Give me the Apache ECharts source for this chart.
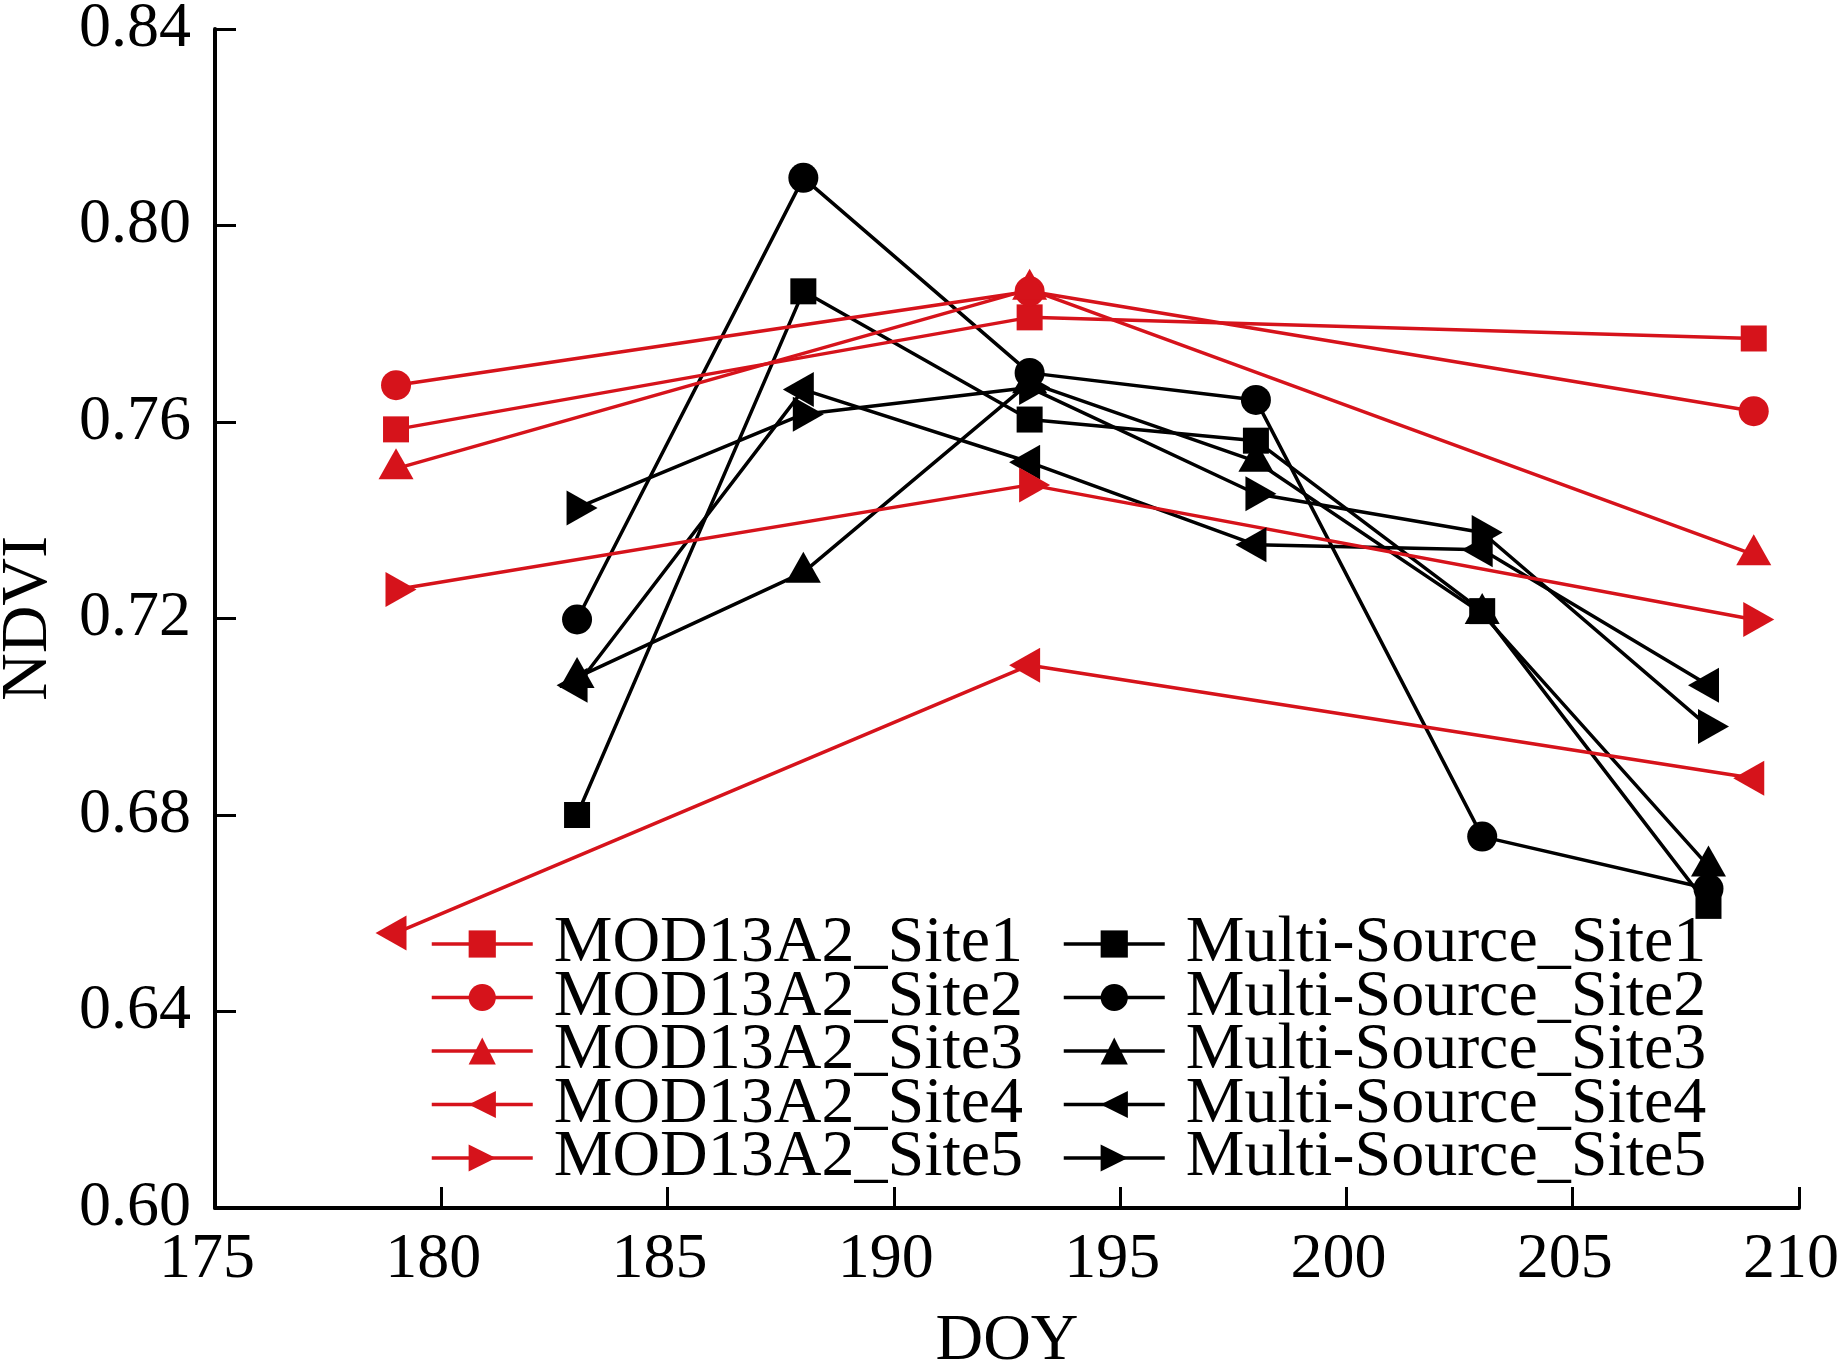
<!DOCTYPE html>
<html>
<head>
<meta charset="utf-8">
<script src="https://cdn.jsdelivr.net/npm/echarts@6/dist/echarts.min.js"></script>
<style>
  html, body { margin: 0; padding: 0; background: #fff; }
  #chart { width: 1841px; height: 1361px; }
</style>
</head>
<body>
<div id="chart"></div>
<script>
// DOY of each observation
const modDoy = [179, 193, 209];
const msDoy = [183, 188, 193, 198, 203, 208];

// MOD13A2 NDVI
const modSite1 = [0.7585, 0.7813, 0.777];
const modSite2 = [0.7675, 0.7866, 0.7622];
const modSite3 = [0.7505, 0.787, 0.733];
const modSite4 = [0.656, 0.7105, 0.6875];
const modSite5 = [0.7259, 0.7472, 0.7198];

// Multi-Source NDVI
const msSite1 = [0.680, 0.7866, 0.7605, 0.7562, 0.7215, 0.6615];
const msSite2 = [0.7198, 0.8097, 0.770, 0.7645, 0.6756, 0.665];
const msSite3 = [0.708, 0.7294, 0.768, 0.752, 0.721, 0.6696];
const msSite4 = [0.7064, 0.7666, 0.7518, 0.735, 0.734, 0.7064];
const msSite5 = [0.7425, 0.7616, 0.767, 0.7454, 0.7375, 0.698];

const xTicks = [175, 180, 185, 190, 195, 200, 205, 210];
const yTicks = [0.60, 0.64, 0.68, 0.72, 0.76, 0.80, 0.84];

const modNames = ['MOD13A2_Site1', 'MOD13A2_Site2', 'MOD13A2_Site3', 'MOD13A2_Site4', 'MOD13A2_Site5'];
const msNames = ['Multi-Source_Site1', 'Multi-Source_Site2', 'Multi-Source_Site3', 'Multi-Source_Site4', 'Multi-Source_Site5'];

const RED = '#d6131b';
const BLACK = '#000000';
const FONT = '"Liberation Serif", "Times New Roman", serif';

// marker per site: square, circle, up / left / right triangle
const MARKERS = [
  { symbol: 'rect', size: 26, rotate: 0, offset: [0, 0] },
  { symbol: 'circle', size: 30, rotate: 0, offset: [0, 0] },
  { symbol: 'triangle', size: [35, 31], rotate: 0, offset: [0, -5] },
  { symbol: 'triangle', size: [35, 31], rotate: 90, offset: [-5, 0] },
  { symbol: 'triangle', size: [35, 31], rotate: -90, offset: [5, 0] },
];

function pair(xs, ys) {
  return ys.map((v, i) => [xs[i], v]);
}

function makeSeries(name, xs, ys, color, marker) {
  return {
    name,
    type: 'line',
    data: pair(xs, ys),
    symbol: marker.symbol,
    symbolSize: marker.size,
    symbolRotate: marker.rotate,
    symbolOffset: marker.offset,
    showAllSymbol: true,
    lineStyle: { width: 3.5, color },
    itemStyle: { color },
    emphasis: { disabled: true },
    animation: false,
  };
}

const modValues = [modSite1, modSite2, modSite3, modSite4, modSite5];
const msValues = [msSite1, msSite2, msSite3, msSite4, msSite5];

const series = [];
msValues.forEach((vals, i) => series.push(makeSeries(msNames[i], msDoy, vals, BLACK, MARKERS[i])));
modValues.forEach((vals, i) => series.push(makeSeries(modNames[i], modDoy, vals, RED, MARKERS[i])));

// rows in the original overlap slightly, hence the negative gap
function legendBlock(names, left) {
  return {
    orient: 'vertical',
    left,
    top: 906,
    data: names,
    itemWidth: 101,
    itemHeight: 34,
    itemGap: -12.5,
    selectedMode: false,
    lineStyle: { width: 3.5 },
    textStyle: {
      fontFamily: FONT,
      fontSize: 66,
      color: '#000',
      padding: [0, 0, 0, 16],
    },
  };
}

const chart = echarts.init(document.getElementById('chart'));

chart.setOption({
  backgroundColor: '#fff',
  animation: false,
  grid: { left: 215, right: 42, top: 29, bottom: 153, outerBoundsMode: 'none', containLabel: false },
  legend: [legendBlock(modNames, 425), legendBlock(msNames, 1057)],
  xAxis: {
    type: 'value',
    min: xTicks[0],
    max: xTicks[xTicks.length - 1],
    interval: 5,
    name: 'DOY',
    nameLocation: 'middle',
    nameGap: 101,
    nameTextStyle: { fontFamily: FONT, fontSize: 66, color: '#000' },
    axisLine: { lineStyle: { color: '#000', width: 4 } },
    axisTick: { inside: true, length: 21, lineStyle: { width: 3 } },
    axisLabel: {
      fontFamily: FONT,
      fontSize: 64,
      color: '#000',
      margin: 20,
      padding: [0, 16, 0, 0],
    },
    splitLine: { show: false },
  },
  yAxis: {
    type: 'value',
    min: yTicks[0],
    max: yTicks[yTicks.length - 1],
    interval: 0.04,
    name: 'NDVI',
    nameLocation: 'middle',
    nameGap: 153,
    nameTextStyle: { fontFamily: FONT, fontSize: 66, color: '#000' },
    axisLine: { show: true, lineStyle: { color: '#000', width: 4 } },
    axisTick: { show: true, inside: true, length: 21, lineStyle: { width: 3 } },
    axisLabel: {
      fontFamily: FONT,
      fontSize: 64,
      color: '#000',
      margin: 24,
      formatter: (v) => v.toFixed(2),
    },
    splitLine: { show: false },
  },
  series,
});
</script>
</body>
</html>
